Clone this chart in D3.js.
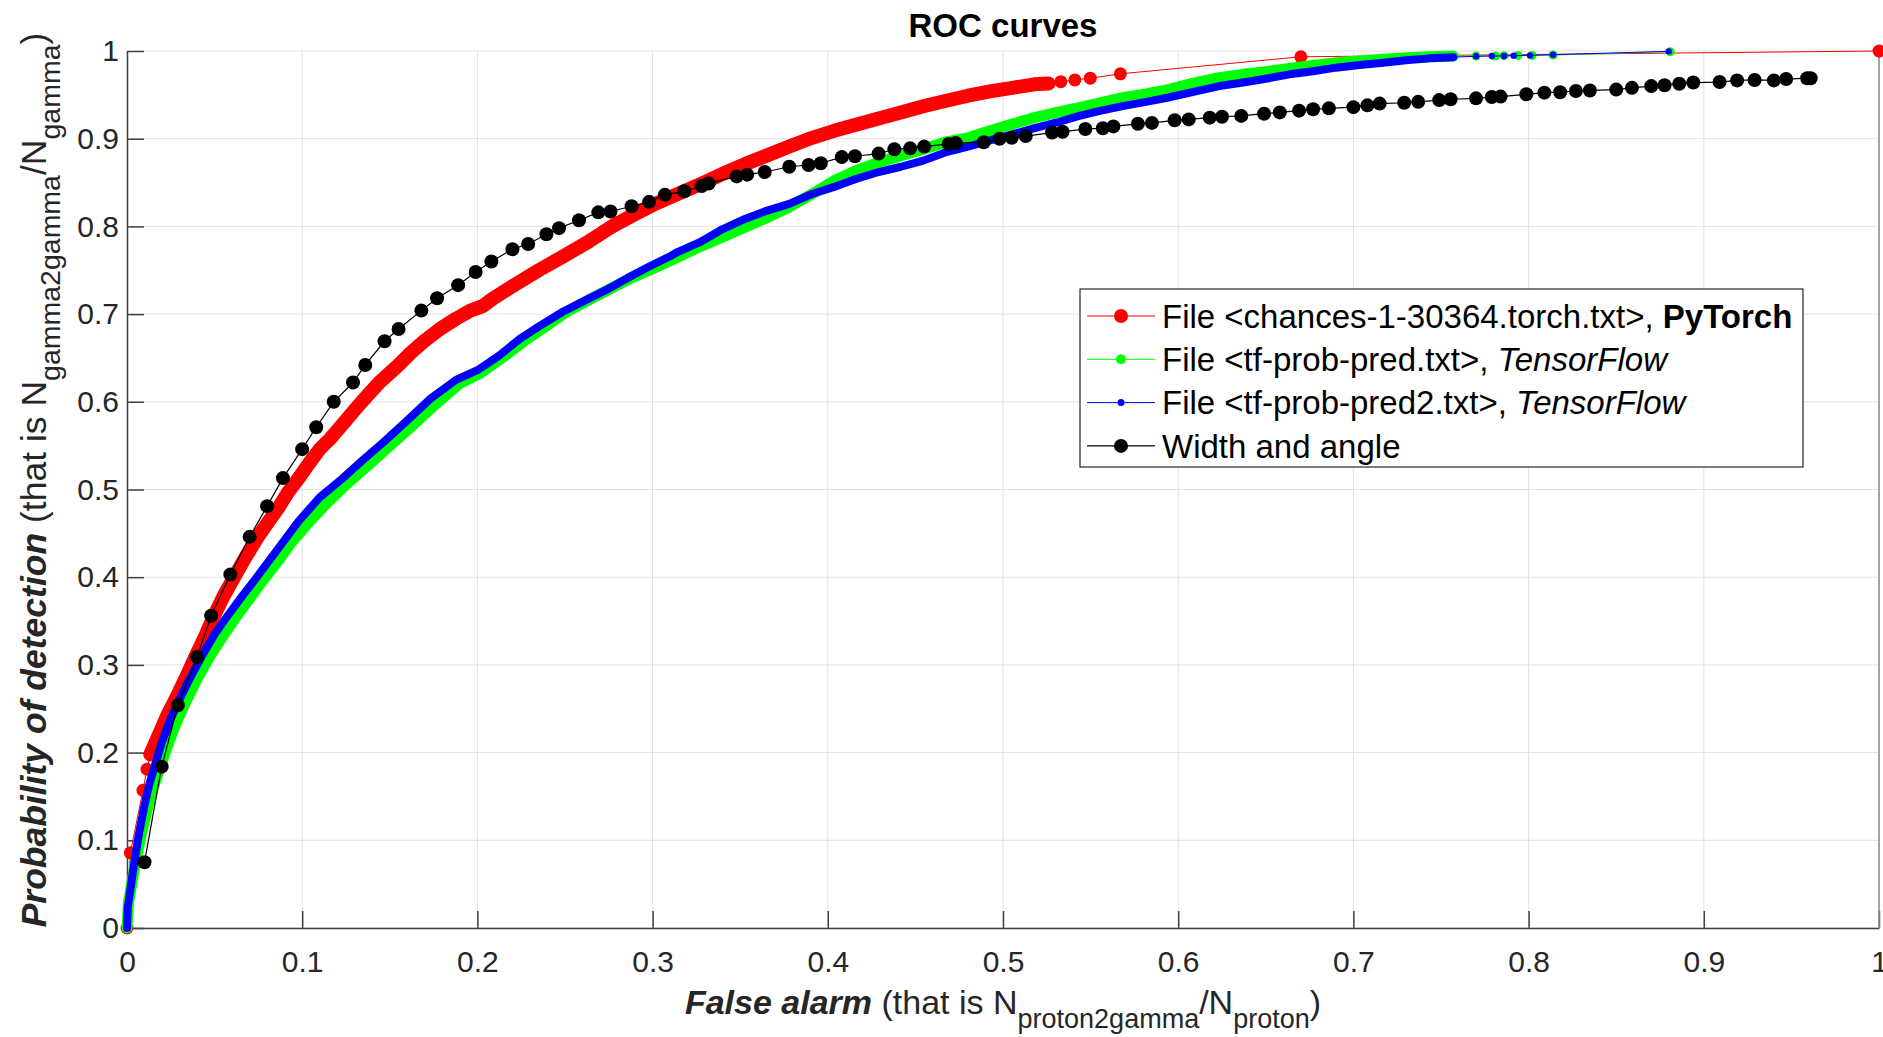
<!DOCTYPE html>
<meta charset="utf-8">
<script src="https://cdn.jsdelivr.net/npm/d3@7"></script>
<style>
body { margin: 0; background: #fff; }
svg text { font-family: "Liberation Sans", Arial, Helvetica, sans-serif; }
.axis path, .axis line { stroke: #404040; stroke-width: 1.5; }
.axis text { fill: #262626; font-size: 30px; }
.grid line { stroke: #e2e2e2; stroke-width: 1; }
</style>
<body>
<div id="chart"></div>
<script>
//-------------------------- DATA --------------------------//
// [false alarm, probability of detection]
const torchRoc = [[0,0],[0.0019,0.0857],[0.0091,0.157],[0.0114,0.181],[0.0133,0.198],[0.017,0.215],[0.0229,0.242],
  [0.028,0.262],[0.034,0.287],[0.039,0.309],[0.044,0.330],[0.0497,0.356],[0.055,0.378],[0.062,0.403],[0.068,0.424],
  [0.0747,0.446],[0.081,0.464],[0.087,0.481],[0.092,0.497],[0.098,0.513],[0.104,0.530],[0.110,0.546],[0.116,0.558],
  [0.1216,0.571],[0.128,0.586],[0.134,0.600],[0.144,0.622],[0.155,0.642],[0.162,0.656],[0.1695,0.669],[0.1786,0.683],
  [0.188,0.695],[0.196,0.704],[0.203,0.709],[0.209,0.718],[0.221,0.733],[0.235,0.750],[0.250,0.767],[0.263,0.782],
  [0.276,0.799],[0.289,0.813],[0.3018,0.826],[0.3145,0.837],[0.327,0.848],[0.340,0.860],[0.3527,0.871],[0.3654,0.881],
  [0.378,0.891],[0.391,0.901],[0.4036,0.909],[0.416,0.916],[0.429,0.923],[0.4417,0.930],[0.4545,0.937],[0.467,0.943],
  [0.480,0.949],[0.4926,0.954],[0.5053,0.958],[0.518,0.962],[0.526,0.963],[0.533,0.965],[0.541,0.967],[0.5498,0.969],
  [0.567,0.974],[0.670,0.9934],[1.0,1.0]];

const tfRoc = [[0,0],[0.0008,0.0285],[0.0045,0.0715],[0.0081,0.1065],[0.0116,0.136],[0.015,0.160],[0.0187,0.182],
  [0.0228,0.206],[0.0279,0.233],[0.034,0.260],[0.040,0.284],[0.0468,0.308],[0.0544,0.332],[0.062,0.354],[0.0697,0.375],
  [0.0778,0.397],[0.086,0.418],[0.094,0.440],[0.102,0.4586],[0.1145,0.4855],[0.1267,0.5086],[0.139,0.530],[0.151,0.5516],
  [0.163,0.573],[0.1766,0.598],[0.190,0.621],[0.202,0.633],[0.2143,0.6505],[0.2265,0.669],[0.2387,0.6855],[0.251,0.7027],
  [0.2631,0.7156],[0.2754,0.7285],[0.2876,0.741],[0.2998,0.7516],[0.3145,0.765],[0.327,0.777],[0.340,0.788],[0.3527,0.799],
  [0.3654,0.810],[0.378,0.822],[0.391,0.837],[0.4036,0.852],[0.416,0.8635],[0.429,0.873],[0.4417,0.8805],[0.4545,0.888],
  [0.467,0.896],[0.480,0.901],[0.4926,0.909],[0.5053,0.9166],[0.518,0.924],[0.5308,0.930],[0.5435,0.9355],[0.556,0.941],
  [0.569,0.947],[0.5817,0.951],[0.5944,0.956],[0.610,0.964],[0.6235,0.9696],[0.637,0.9734],[0.650,0.9764],[0.6635,0.980],
  [0.677,0.9836],[0.690,0.9867],[0.7035,0.9886],[0.717,0.9905],[0.730,0.9924],[0.7435,0.9935],[0.757,0.9943],[0.770,0.9943],
  [0.781,0.9943],[0.786,0.9947],[0.794,0.995],[0.802,0.995],[0.814,0.9954],[0.8808,0.9992]];

const tf2Roc = [[0,0],[0.0004,0.023],[0.0035,0.066],[0.0065,0.104],[0.0096,0.136],[0.0126,0.163],[0.0157,0.184],
  [0.0198,0.211],[0.0248,0.238],[0.031,0.265],[0.037,0.289],[0.043,0.311],[0.050,0.335],[0.0574,0.356],[0.0656,0.378],
  [0.0737,0.399],[0.0819,0.421],[0.090,0.4425],[0.098,0.464],[0.110,0.491],[0.1226,0.512],[0.1348,0.534],[0.147,0.555],
  [0.159,0.577],[0.1735,0.604],[0.1878,0.625],[0.200,0.636],[0.212,0.652],[0.2244,0.672],[0.2367,0.688],[0.249,0.703],
  [0.261,0.715],[0.273,0.727],[0.2855,0.741],[0.2978,0.754],[0.31,0.766],[0.3145,0.771],[0.327,0.782],[0.340,0.797],
  [0.3527,0.8085],[0.3654,0.818],[0.378,0.8256],[0.391,0.837],[0.4036,0.845],[0.416,0.854],[0.429,0.862],[0.4417,0.868],
  [0.4545,0.875],[0.467,0.8843],[0.480,0.891],[0.4926,0.898],[0.5053,0.905],[0.518,0.912],[0.5308,0.9185],[0.5435,0.926],
  [0.556,0.932],[0.569,0.9374],[0.5817,0.942],[0.5944,0.947],[0.610,0.954],[0.6235,0.960],[0.637,0.964],[0.650,0.9684],
  [0.6635,0.9734],[0.677,0.977],[0.690,0.981],[0.7035,0.984],[0.717,0.9867],[0.730,0.9894],[0.7435,0.9916],[0.757,0.993],
  [0.770,0.994],[0.779,0.9943],[0.786,0.9943],[0.7915,0.9947],[0.8008,0.995],[0.814,0.9958],[0.880,0.9996]];

const widthAngleRoc = [[0.010,0.075],[0.0198,0.184],[0.029,0.254],[0.040,0.309],[0.048,0.356],[0.059,0.403],[0.070,0.446],
  [0.080,0.481],[0.089,0.513],[0.100,0.546],[0.108,0.571],[0.118,0.600],[0.129,0.622],[0.136,0.642],[0.147,0.669],
  [0.155,0.683],[0.168,0.704],[0.177,0.718],[0.189,0.733],[0.199,0.748],[0.208,0.760],[0.220,0.774],[0.229,0.780],
  [0.2394,0.791],[0.2466,0.798],[0.258,0.807],[0.269,0.816],[0.276,0.817],[0.288,0.823],[0.298,0.828],[0.307,0.836],
  [0.318,0.840],[0.328,0.846],[0.332,0.849],[0.348,0.857],[0.354,0.859],[0.364,0.862],[0.378,0.868],[0.389,0.870],
  [0.396,0.872],[0.408,0.879],[0.4155,0.880],[0.429,0.883],[0.438,0.888],[0.447,0.889],[0.455,0.891],[0.469,0.894],
  [0.473,0.895],[0.489,0.896],[0.498,0.900],[0.505,0.901],[0.513,0.903],[0.528,0.907],[0.534,0.908],[0.547,0.911],
  [0.557,0.912],[0.563,0.914],[0.577,0.917],[0.585,0.918],[0.598,0.921],[0.606,0.922],[0.618,0.924],[0.625,0.925],
  [0.636,0.926],[0.649,0.9285],[0.658,0.930],[0.669,0.932],[0.677,0.9335],[0.686,0.9346],[0.700,0.936],[0.708,0.938],
  [0.715,0.940],[0.729,0.941],[0.737,0.942],[0.749,0.944],[0.7555,0.945],[0.770,0.946],[0.779,0.9475],[0.784,0.948],
  [0.7987,0.9506],[0.809,0.9525],[0.818,0.953],[0.827,0.9544],[0.835,0.955],[0.850,0.956],[0.859,0.958],[0.870,0.960],
  [0.8776,0.961],[0.886,0.9627],[0.894,0.964],[0.909,0.9646],[0.919,0.9665],[0.929,0.967],[0.940,0.9665],[0.947,0.968],
  [0.959,0.969],[0.961,0.969]];

const tickValues = [0, 0.1, 0.2, 0.3, 0.4, 0.5, 0.6, 0.7, 0.8, 0.9, 1];
const tickLabels = ["0", "0.1", "0.2", "0.3", "0.4", "0.5", "0.6", "0.7", "0.8", "0.9", "1"];

//-------------------------- SETUP --------------------------//
const W = 1883, H = 1037;
const pLeft = 127, pRight = 1879, pTop = 51, pBottom = 928;

// band = the dense run of overlapping markers, drawn as a wide stroke between bandFrom and bandTo
const series = [
  {data: torchRoc,       color: "#ff0000", r: 6.5, lw: 1,   band: 14, bandFrom: 0.012, bandTo: 0.53},
  {data: tfRoc,          color: "#00ff00", r: 4.5, lw: 1,   band: 11, bandFrom: 0,     bandTo: 0.757},
  {data: tf2Roc,         color: "#0000ff", r: 3.2, lw: 1,   band: 8,  bandFrom: 0,     bandTo: 0.757},
  {data: widthAngleRoc,  color: "#000000", r: 7,   lw: 1.2, band: 0,  bandFrom: 0,     bandTo: 0}
];

const x = d3.scaleLinear().domain([0, 1]).range([pLeft, pRight]);
const y = d3.scaleLinear().domain([0, 1]).range([pBottom, pTop]);

const svg = d3.select("#chart").append("svg")
  .attr("width", W).attr("height", H);

//-------------------------- GRID --------------------------//
const grid = svg.append("g").attr("class", "grid");
grid.selectAll("line.v").data(tickValues).enter().append("line")
  .attr("x1", d => x(d)).attr("x2", d => x(d)).attr("y1", pTop).attr("y2", pBottom);
grid.selectAll("line.h").data(tickValues).enter().append("line")
  .attr("x1", pLeft).attr("x2", pRight).attr("y1", d => y(d)).attr("y2", d => y(d));

//-------------------------- AXES --------------------------//
const fmt = d => tickLabels[tickValues.indexOf(d)];
svg.append("g").attr("class", "axis")
  .attr("transform", "translate(0," + pBottom + ")")
  .call(d3.axisBottom(x).tickValues(tickValues).tickFormat(fmt)
    .tickSizeInner(-17).tickSizeOuter(0).tickPadding(23));
svg.append("g").attr("class", "axis")
  .attr("transform", "translate(" + pLeft + ",0)")
  .call(d3.axisLeft(y).tickValues(tickValues).tickFormat(fmt)
    .tickSizeInner(-17).tickSizeOuter(0).tickPadding(8));
svg.selectAll(".axis text").style("font-size", "30px");

svg.append("line")
  .attr("x1", pRight).attr("x2", pRight).attr("y1", pTop).attr("y2", pBottom)
  .attr("stroke", "#8a8a8a").attr("stroke-width", 1.5);

//-------------------------- CURVES --------------------------//
const line = d3.line().x(d => x(d[0])).y(d => y(d[1]));
const plot = svg.append("g");

series.forEach(s => {
  const g = plot.append("g");
  if (s.band > 0) {
    g.append("path")
      .attr("d", line(s.data.filter(d => d[0] >= s.bandFrom && d[0] <= s.bandTo)))
      .attr("fill", "none")
      .attr("stroke", s.color)
      .attr("stroke-width", s.band)
      .attr("stroke-linecap", "round")
      .attr("stroke-linejoin", "round");
  }
  g.append("path")
    .attr("d", line(s.data))
    .attr("fill", "none")
    .attr("stroke", s.color)
    .attr("stroke-width", s.lw);
  g.selectAll("circle").data(s.data).enter().append("circle")
    .attr("cx", d => x(d[0])).attr("cy", d => y(d[1]))
    .attr("r", s.r).attr("fill", s.color);
});

//-------------------------- TEXT --------------------------//
svg.append("text")
  .attr("x", (pLeft + pRight) / 2).attr("y", 37)
  .attr("text-anchor", "middle")
  .style("font-size", "33px").style("font-weight", "bold")
  .text("ROC curves");

const xl = svg.append("text")
  .attr("x", (pLeft + pRight) / 2).attr("y", 1014)
  .attr("text-anchor", "middle")
  .style("font-size", "34px").attr("fill", "#262626");
xl.append("tspan").style("font-weight", "bold").style("font-style", "italic").text("False alarm");
xl.append("tspan").text(" (that is N");
xl.append("tspan").attr("dy", 14).style("font-size", "27px").text("proton2gamma");
xl.append("tspan").attr("dy", -14).text("/N");
xl.append("tspan").attr("dy", 14).style("font-size", "27px").text("proton");
xl.append("tspan").attr("dy", -14).text(")");

const yl = svg.append("text")
  .attr("transform", "translate(46,480) rotate(-90)")
  .attr("text-anchor", "middle")
  .style("font-size", "35.5px").attr("fill", "#262626");
yl.append("tspan").style("font-weight", "bold").style("font-style", "italic").text("Probability of detection");
yl.append("tspan").text(" (that is N");
yl.append("tspan").attr("dy", 14).style("font-size", "28.5px").text("gamma2gamma");
yl.append("tspan").attr("dy", -14).text("/N");
yl.append("tspan").attr("dy", 14).style("font-size", "28.5px").text("gamma");
yl.append("tspan").attr("dy", -14).text(")");

//-------------------------- LEGEND --------------------------//
const legend = svg.append("g");
legend.append("rect")
  .attr("x", 1080).attr("y", 289).attr("width", 723).attr("height", 178)
  .attr("fill", "#fff").attr("stroke", "#262626").attr("stroke-width", 1.2);

const legendRows = [
  [["File <chances-1-30364.torch.txt>, ", ""], ["PyTorch", "bold"]],
  [["File <tf-prob-pred.txt>, ", ""], ["TensorFlow", "italic"]],
  [["File <tf-prob-pred2.txt>, ", ""], ["TensorFlow", "italic"]],
  [["Width and angle", ""]]
];
const legendMarker = [7, 5, 3.5, 7];

legendRows.forEach((row, i) => {
  const cy = 316 + i * 43.3;
  const s = series[i];
  legend.append("line").attr("x1", 1087).attr("x2", 1155).attr("y1", cy).attr("y2", cy)
    .attr("stroke", s.color).attr("stroke-width", s.lw);
  legend.append("circle").attr("cx", 1121).attr("cy", cy).attr("r", legendMarker[i]).attr("fill", s.color);
  const t = legend.append("text").attr("x", 1162).attr("y", cy).attr("dy", "0.36em")
    .style("font-size", "33px").attr("fill", "#000");
  row.forEach(p => {
    const sp = t.append("tspan").text(p[0]);
    if (p[1] === "bold") sp.style("font-weight", "bold");
    if (p[1] === "italic") sp.style("font-style", "italic");
  });
});
</script>
</body>
